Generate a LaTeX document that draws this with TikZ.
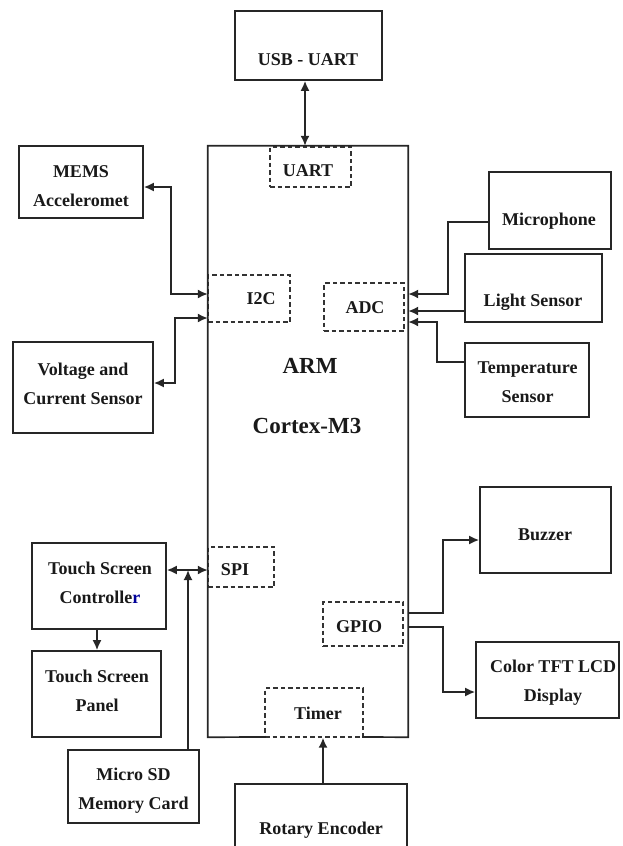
\documentclass[tikz,border=0pt]{standalone}
\usepackage{fontspec}
\setmainfont{Liberation Serif}
\usetikzlibrary{arrows.meta}
\begin{document}
\begin{tikzpicture}[x=1pt,y=-1pt,
  every node/.style={font=\bfseries\fontsize{18}{29}\selectfont, text=black!90},
  box/.style={draw=black!85, line width=1.7pt, rectangle, inner sep=0pt},
  dbox/.style={draw=black!80, line width=1.4pt, dash pattern=on 4.5pt off 3pt, rectangle, inner sep=0pt, fill=white},
  lbl/.style={align=center, inner sep=0pt},
  big/.style={font=\bfseries\fontsize{23}{29}\selectfont},
  conn/.style={draw=black!85, line width=1.7pt},
  tip/.style={-{Latex[length=10pt,width=9pt]}},
  bitip/.style={{Latex[length=10pt,width=9pt]}-{Latex[length=10pt,width=9pt]}}]
\path[use as bounding box, clip] (0,0) rectangle (622,846);

% main controller
\node[inner sep=0pt, minimum width=200pt, minimum height=591pt] (main) at (308,441.5) {};
\node[lbl, big] (arm) at (310,366) {ARM};
\node[lbl, big] (cortex) at (307,426) {Cortex-M3};

% peripheral blocks inside
\node[dbox, minimum width=81pt, minimum height=40pt] (uart) at (310.5,167) {};
\node[lbl] (uartt) at (308,171) {UART};
\node[dbox, minimum width=82pt, minimum height=47pt] (i2c) at (249,298.5) {};
\node[lbl] (i2ct) at (261,299) {I2C};
\node[dbox, minimum width=80pt, minimum height=48pt] (adc) at (364,307) {};
\node[lbl] (adct) at (365,308) {ADC};
\node[dbox, minimum width=66pt, minimum height=40pt] (spi) at (241,567) {};
\node[lbl] (spit) at (235,570) {SPI};
\node[dbox, minimum width=80pt, minimum height=44pt] (gpio) at (363,624) {};
\node[lbl] (gpiot) at (359,627) {GPIO};
\node[dbox, minimum width=98pt, minimum height=49pt] (timer) at (314,712.5) {};
\node[lbl] (timert) at (318,713) {Timer};
\draw[conn, line cap=rect] (265,737) -- (main.south west) -- (main.north west) -- (main.north east) -- (main.south east) -- (363,737);

% outer blocks
\node[box, minimum width=147pt, minimum height=69pt] (usb) at (308.5,45.5) {};
\node[lbl] (usbt) at (308,60) {USB - UART};

\node[box, minimum width=124pt, minimum height=72pt] (mems) at (81,182) {};
\node[lbl] (memst) at (81,186.5) {MEMS\\Acceleromet};

\node[box, minimum width=140pt, minimum height=91pt] (volt) at (83,387.5) {};
\node[lbl] (voltt) at (83,383.5) {Voltage and\\Current Sensor};

\node[box, minimum width=122pt, minimum height=77pt] (mic) at (550,210.5) {};
\node[lbl] (mict) at (549,221) {Microphone};

\node[box, minimum width=137pt, minimum height=68pt] (light) at (533.5,288) {};
\node[lbl] (lightt) at (533,302) {Light Sensor};

\node[box, minimum width=124pt, minimum height=74pt] (temp) at (527,380) {};
\node[lbl] (tempt) at (527.5,382.5) {Temperature\\Sensor};

\node[box, minimum width=131pt, minimum height=86pt] (buzzer) at (545.5,530) {};
\node[lbl] (buzzert) at (545,535) {Buzzer};

\node[box, minimum width=143pt, minimum height=76pt] (tft) at (547.5,680) {};
\node[lbl] (tftt) at (553,682.5) {Color TFT LCD\\Display};

\node[box, minimum width=172pt, minimum height=100pt] (rot) at (321,834) {};
\node[lbl] (rott) at (321,830) {Rotary Encoder};

\node[box, minimum width=134pt, minimum height=86pt] (tsc) at (99,586) {};
\node[lbl] (tsct) at (100,582.5) {Touch Screen\\Controlle\textcolor{blue!60!black}{r}};

\node[box, minimum width=129pt, minimum height=86pt] (tsp) at (96.5,694) {};
\node[lbl] (tspt) at (97,691) {Touch Screen\\Panel};

\node[box, minimum width=131pt, minimum height=73pt] (sd) at (133.5,786.5) {};
\node[lbl] (sdt) at (133.5,790.5) {Micro SD\\Memory Card};

% connectors
\draw[conn, bitip] (usb.south -| 305,0) -- (main.north -| 305,0);
\draw[conn, bitip] (mems.east |- 0,187) -- (171,187) -- (171,294) -- (main.west |- 0,294);
\draw[conn, bitip] (main.west |- 0,318) -- (175,318) -- (175,383) -- (volt.east |- 0,383);
\draw[conn, tip] (mic.west |- 0,222) -- (448,222) -- (448,294) -- (main.east |- 0,294);
\draw[conn, tip] (light.west |- 0,311) -- (main.east |- 0,311);
\draw[conn, tip] (temp.west |- 0,362) -- (437,362) -- (437,322) -- (main.east |- 0,322);
\draw[conn, tip] (main.east |- 0,613) -- (443,613) -- (443,540) -- (buzzer.west |- 0,540);
\draw[conn, tip] (main.east |- 0,627) -- (443,627) -- (443,692) -- (tft.west |- 0,692);
\draw[conn, tip] (rot.north -| 323,0) -- (timer.south -| 323,0);
\draw[conn, bitip] (tsc.east |- 0,570) -- (main.west |- 0,570);
\coordinate (spij) at (188,570);
\draw[conn, tip] (sd.north -| 188,0) -- (spij);
\draw[conn, tip] (tsc.south -| 97,0) -- (tsp.north -| 97,0);
\end{tikzpicture}
\end{document}
